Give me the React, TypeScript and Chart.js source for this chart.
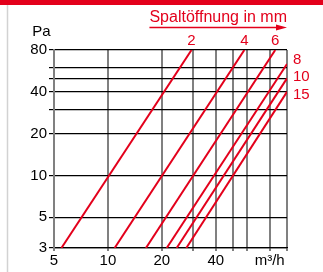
import React, { useEffect, useRef } from 'react';
import { Chart, registerables } from 'chart.js';

Chart.register(...registerables);

// ---- data ----
const gapLabels = ['2', '4', '6', '8', '10', '15'];
const flowAt3Pa = [5.5, 10.9, 16.3, 21.3, 24.2, 27.4];
const flowAtEnd = [29.3, 57.8, 86, 100, 100, 100];
const pressureAtEnd = [80, 80, 80, 63.5, 50, 40];
const startPressure = 3;

const xTickValues = [5, 10, 20, 30, 40, 50, 60, 80, 100];
const xTickLabels = ['5', '10', '20', '', '40', '', '', 'm³/h', ''];
const yTickValues = [3, 5, 10, 20, 30, 40, 50, 60, 80];
const yTickLabels = ['3', '5', '10', '20', '', '40', '', '', '80'];
const yAxisTitle = 'Pa';
const gapTitle = 'Spaltöffnung in mm';

// ---- style ----
const RED = '#e3001b';
const FONT = 'Arial, "Liberation Sans", Helvetica, sans-serif';
const rightLabelNudge = [-4, -1.5, 3.5];

const decor = {
  id: 'decor',
  beforeDraw(chart: any) {
    const ctx = chart.ctx;
    ctx.save();
    ctx.fillStyle = '#fff';
    ctx.fillRect(0, 0, chart.width, chart.height);
    ctx.fillStyle = RED;
    ctx.fillRect(0, 0, chart.width, 5);
    ctx.strokeStyle = '#d2d2d2';
    ctx.lineWidth = 1.5;
    ctx.beginPath();
    ctx.moveTo(7.5, 5);
    ctx.lineTo(7.5, chart.height);
    ctx.stroke();
    ctx.restore();
  },
  afterDraw(chart: any) {
    const { ctx, chartArea, scales } = chart;
    ctx.save();
    // y axis unit
    ctx.font = `15px ${FONT}`;
    ctx.fillStyle = '#000';
    ctx.textAlign = 'center';
    ctx.textBaseline = 'middle';
    ctx.fillText(yAxisTitle, 41.5, 31.5);

    // gap title + arrow
    ctx.fillStyle = RED;
    ctx.font = `16px ${FONT}`;
    ctx.textAlign = 'right';
    ctx.textBaseline = 'alphabetic';
    ctx.fillText(gapTitle, chartArea.right, 21.5);
    const tw = ctx.measureText(gapTitle).width;
    const ax0 = chartArea.right - tw;
    const ay = 27.5;
    ctx.strokeStyle = RED;
    ctx.lineWidth = 1.4;
    ctx.beginPath();
    ctx.moveTo(ax0, ay);
    ctx.lineTo(chartArea.right - 8, ay);
    ctx.stroke();
    ctx.beginPath();
    ctx.moveTo(chartArea.right, ay);
    ctx.lineTo(chartArea.right - 11, ay - 3);
    ctx.lineTo(chartArea.right - 11, ay + 3);
    ctx.closePath();
    ctx.fill();

    // series labels
    ctx.font = `15px ${FONT}`;
    ctx.textBaseline = 'middle';
    let r = 0;
    gapLabels.forEach((lab, i) => {
      const x = scales.x.getPixelForValue(flowAtEnd[i]);
      const y = scales.y.getPixelForValue(pressureAtEnd[i]);
      if (pressureAtEnd[i] >= 80) {
        ctx.textAlign = 'center';
        ctx.fillText(lab, x, y - 9.5);
      } else {
        ctx.textAlign = 'left';
        ctx.fillText(lab, x + 6, y + (rightLabelNudge[r] || 0));
        r++;
      }
    });
    ctx.restore();
  },
};

export default function App() {
  const ref = useRef<HTMLCanvasElement | null>(null);

  useEffect(() => {
    document.body.style.margin = '0';
    const canvas = ref.current;
    if (!canvas) return;
    const chart = new Chart(canvas, {
      type: 'line',
      data: {
        datasets: gapLabels.map((l, i) => ({
          label: l,
          data: [
            { x: flowAt3Pa[i], y: startPressure },
            { x: flowAtEnd[i], y: pressureAtEnd[i] },
          ],
          borderColor: RED,
          borderWidth: 2,
          pointRadius: 0,
          fill: false,
          tension: 0,
        })),
      },
      options: {
        animation: false,
        responsive: false,
        layout: { padding: { top: 50, right: 36, left: 0, bottom: 0 } },
        plugins: { legend: { display: false }, tooltip: { enabled: false } },
        scales: {
          x: {
            type: 'logarithmic',
            min: 5,
            max: 100,
            afterBuildTicks: (s: any) => {
              s.ticks = xTickValues.map((v) => ({ value: v }));
            },
            afterFit: (s: any) => {
              s.height = 24;
            },
            ticks: {
              callback: (v: any) => xTickLabels[xTickValues.indexOf(Number(v))] ?? '',
              font: { size: 15, family: FONT },
              color: '#000',
              padding: 1,
              maxRotation: 0,
              autoSkip: false,
            },
            grid: { color: '#808080', lineWidth: 2, tickLength: 3 },
            border: { color: '#000', width: 1.2 },
          },
          y: {
            type: 'logarithmic',
            min: 3,
            max: 80,
            afterBuildTicks: (s: any) => {
              s.ticks = yTickValues.map((v) => ({ value: v }));
            },
            afterFit: (s: any) => {
              s.width = 54;
            },
            ticks: {
              callback: (v: any) => yTickLabels[yTickValues.indexOf(Number(v))] ?? '',
              font: { size: 15, family: FONT },
              color: '#000',
              padding: 2,
              autoSkip: false,
            },
            grid: { color: '#000', lineWidth: 1.2, tickLength: 5 },
            border: { color: '#808080', width: 2 },
          },
        },
      } as any,
      plugins: [decor],
    });
    return () => chart.destroy();
  }, []);

  return (
    <div style={{ width: 323, height: 272, position: 'relative' }}>
      <canvas ref={ref} width={323} height={272} style={{ display: 'block' }} />
    </div>
  );
}
